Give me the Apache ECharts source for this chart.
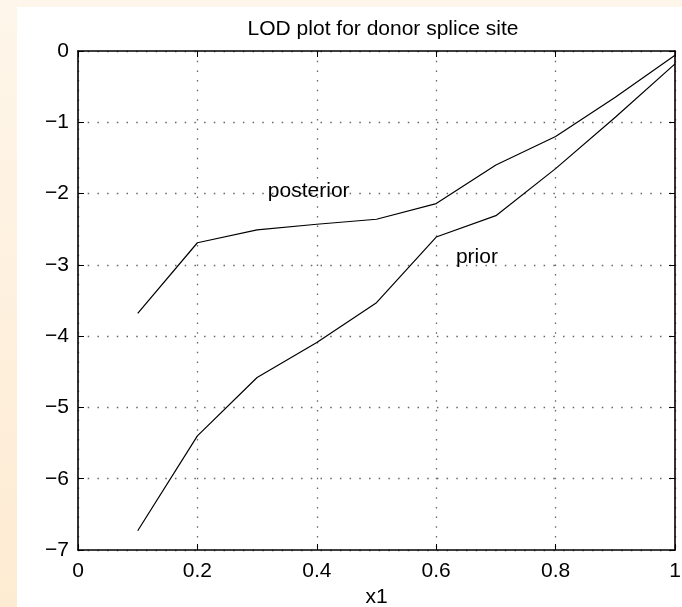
<!DOCTYPE html>
<html>
<head>
<meta charset="utf-8">
<script src="https://cdn.jsdelivr.net/npm/echarts@6/dist/echarts.min.js"></script>
<style>
  html, body { margin: 0; padding: 0; }
  body {
    width: 682px; height: 607px; position: relative; overflow: hidden;
    background: linear-gradient(to bottom, #fef6ea, #feebd2);
  }
  #paper { position: absolute; left: 17px; top: 7px; right: 0; bottom: 0; background: #fff; }
  #chart { position: absolute; left: 0; top: 0; width: 682px; height: 607px; }
</style>
</head>
<body>
<div id="paper"></div>
<div id="chart"></div>
<script>
// values
var xValues = [0.1, 0.2, 0.3, 0.4, 0.5, 0.6, 0.7, 0.8, 0.9, 1.0];
var posterior = [-3.68, -2.69, -2.51, -2.43, -2.36, -2.14, -1.60, -1.20, -0.65, -0.06];
var prior = [-6.73, -5.40, -4.58, -4.09, -3.53, -2.61, -2.31, -1.65, -0.93, -0.18];
var xTicks = [0, 0.2, 0.4, 0.6, 0.8, 1];
var yTicks = [-7, -6, -5, -4, -3, -2, -1, 0];
var textNotes = [
  { name: 'posterior', x: 0.318, y: -1.97 },
  { name: 'prior', x: 0.633, y: -2.89 }
];

function pairs(xs, ys) {
  return xs.map(function (x, i) { return [x, ys[i]]; });
}

var font = 'Liberation Sans, Arial, Helvetica, sans-serif';
var fs = 21;
var dotted = { color: '#666', width: 1.3, type: [1.5, 8.2] };

var chart = echarts.init(document.getElementById('chart'));
var option = {
  animation: false,
  backgroundColor: 'transparent',
  textStyle: { fontFamily: font },
  title: {
    text: 'LOD plot for donor splice site',
    left: 378,
    textAlign: 'center',
    top: 14,
    textStyle: { fontFamily: font, fontSize: fs, fontWeight: 'normal', color: '#000' }
  },
  grid: { left: 78, right: 7, top: 51, bottom: 57, containLabel: false, outerBoundsMode: 'none' },
  xAxis: [{
    type: 'value', min: 0, max: 1, interval: 0.2, position: 'bottom',
    name: 'x1', nameLocation: 'middle', nameGap: 37,
    nameTextStyle: { fontFamily: font, fontSize: fs, color: '#000' },
    axisLine: { show: true, onZero: false, lineStyle: { color: '#000', width: 1.6 } },
    axisTick: { show: true, inside: true, length: 6, lineStyle: { color: '#000' } },
    axisLabel: {
      fontFamily: font, fontSize: fs, color: '#000', margin: 11,
      formatter: function (v) { return xTicks.indexOf(+v.toFixed(1)) >= 0 ? String(+v.toFixed(1)) : ''; }
    },
    splitLine: { show: true, lineStyle: dotted }
  }, {
    type: 'value', min: 0, max: 1, interval: 0.2, position: 'top',
    axisLine: { show: true, onZero: false, lineStyle: { color: '#000', width: 1.6 } },
    axisTick: { show: true, inside: true, length: 6, lineStyle: { color: '#000' } },
    axisLabel: { show: false },
    splitLine: { show: false }
  }],
  yAxis: [{
    type: 'value', min: -7, max: 0, interval: 1, position: 'left',
    axisLine: { show: true, onZero: false, lineStyle: { color: '#000', width: 1.6 } },
    axisTick: { show: true, inside: true, length: 6, lineStyle: { color: '#000' } },
    axisLabel: {
      fontFamily: font, fontSize: fs, color: '#000', margin: 9,
      formatter: function (v) { return String(v).replace('-', '\u2212'); }
    },
    splitLine: { show: true, lineStyle: dotted }
  }, {
    type: 'value', min: -7, max: 0, interval: 1, position: 'right',
    axisLine: { show: true, onZero: false, lineStyle: { color: '#000', width: 1.6 } },
    axisTick: { show: true, inside: true, length: 6, lineStyle: { color: '#000' } },
    axisLabel: { show: false },
    splitLine: { show: false }
  }],
  series: [
    {
      name: 'posterior', type: 'line', data: pairs(xValues, posterior),
      showSymbol: false, lineStyle: { color: '#000', width: 1.2 }, z: 3
    },
    {
      name: 'prior', type: 'line', data: pairs(xValues, prior),
      showSymbol: false, lineStyle: { color: '#000', width: 1.2 }, z: 3
    },
    {
      name: 'notes', type: 'scatter', symbolSize: 0,
      itemStyle: { opacity: 1, color: '#000' },
      data: textNotes.map(function (n) { return { name: n.name, value: [n.x, n.y] }; }),
      label: {
        show: true, position: 'right', distance: 0, formatter: '{b}', opacity: 1,
        fontFamily: font, fontSize: fs, color: '#000', textBorderWidth: 0
      }
    }
  ]
};
chart.setOption(option);
</script>
</body>
</html>
